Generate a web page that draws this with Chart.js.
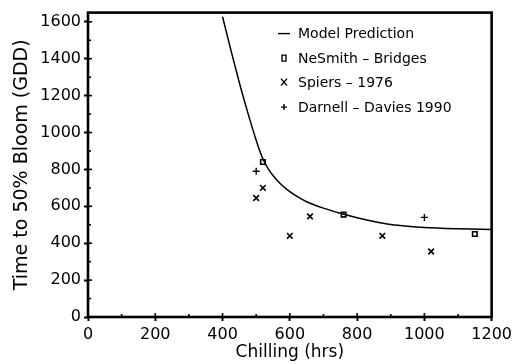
<!DOCTYPE html>
<html>
<head>
<meta charset="utf-8">
<script src="https://cdn.jsdelivr.net/npm/chart.js@4.4.1/dist/chart.umd.min.js"></script>
<style>
  html, body { margin: 0; padding: 0; background: #fff; }
  #wrap { width: 516px; height: 364px; }
</style>
</head>
<body>
<div id="wrap"><canvas id="bloomChart"></canvas></div>
<script>
// Chilling hours vs. heat units to 50% bloom
const modelChill = [400, 425, 450, 475, 500, 510, 520, 535, 550, 575, 600, 625, 650, 700, 750, 800, 850, 900, 950, 1000, 1100, 1200];
const modelGdd   = [1628, 1445, 1270, 1108, 958, 904, 857, 806, 767, 717, 680, 650, 625, 590, 562, 538, 518, 502, 492, 485, 478, 474];

const nesmithChill = [520, 760, 1150];
const nesmithGdd   = [840, 555, 450];

const spiersChill = [500, 520, 600, 660, 875, 1020];
const spiersGdd   = [645, 700, 440, 545, 440, 355];

const darnellChill = [500, 1000];
const darnellGdd   = [790, 540];

const xTicks = [0, 200, 400, 600, 800, 1000, 1200];
const yTicks = [0, 200, 400, 600, 800, 1000, 1200, 1400, 1600];

const legendItems = [
  { label: 'Model Prediction', mark: 'line' },
  { label: 'NeSmith \u2013 Bridges', mark: 'rect' },
  { label: 'Spiers \u2013 1976', mark: 'x' },
  { label: 'Darnell \u2013 Davies 1990', mark: 'plus' },
];

const pts = (xs, ys) => xs.map((x, i) => ({ x, y: ys[i] }));

Chart.defaults.font.family = "'DejaVu Sans', sans-serif";
Chart.defaults.color = '#000';

// box round the plot plus the small inner tick marks
const framePlugin = {
  id: 'frame',
  afterDraw(chart) {
    const { ctx, chartArea: a, scales } = chart;
    ctx.save();
    ctx.strokeStyle = '#000';
    ctx.lineWidth = 1.6;
    for (let v = 100; v < 1200; v += 100) {
      const px = scales.x.getPixelForValue(v);
      const len = v % 200 === 0 ? 4 : 3;
      ctx.beginPath();
      ctx.moveTo(px, a.bottom);
      ctx.lineTo(px, a.bottom - len);
      ctx.stroke();
    }
    for (let v = 100; v <= 1600; v += 100) {
      const py = scales.y.getPixelForValue(v);
      const len = v % 200 === 0 ? 4 : 3;
      ctx.beginPath();
      ctx.moveTo(a.left, py);
      ctx.lineTo(a.left + len, py);
      ctx.stroke();
    }
    ctx.lineWidth = 2.6;
    ctx.strokeRect(a.left, a.top, a.right - a.left, a.bottom - a.top);
    ctx.restore();
  }
};

const keyPlugin = {
  id: 'key',
  afterDraw(chart) {
    const { ctx, chartArea: a } = chart;
    const sx = a.left + 194;
    const tx = sx + 16;
    let y = a.top + 21;
    ctx.save();
    ctx.fillStyle = '#000';
    ctx.strokeStyle = '#000';
    ctx.font = "14px 'DejaVu Sans', sans-serif";
    ctx.textBaseline = 'middle';
    legendItems.forEach(item => {
      ctx.lineWidth = 1.4;
      ctx.beginPath();
      if (item.mark === 'line') {
        ctx.moveTo(sx - 4, y); ctx.lineTo(sx + 8, y);
      } else if (item.mark === 'rect') {
        ctx.rect(sx, y - 3, 4, 6);
      } else if (item.mark === 'x') {
        ctx.moveTo(sx - 1, y - 4); ctx.lineTo(sx + 5, y + 3);
        ctx.moveTo(sx + 5, y - 4); ctx.lineTo(sx - 1, y + 3);
      } else {
        ctx.moveTo(sx - 1, y); ctx.lineTo(sx + 5, y);
        ctx.moveTo(sx + 2, y - 3); ctx.lineTo(sx + 2, y + 3);
      }
      ctx.stroke();
      ctx.fillText(item.label, tx, y + 1);
      y += 24.5;
    });
    ctx.restore();
  }
};

new Chart(document.getElementById('bloomChart'), {
  type: 'scatter',
  data: {
    datasets: [
      {
        label: 'Model Prediction',
        data: pts(modelChill, modelGdd),
        showLine: true,
        borderColor: '#000',
        borderWidth: 1.5,
        pointRadius: 0,
        cubicInterpolationMode: 'monotone',
      },
      {
        label: 'NeSmith - Bridges',
        data: pts(nesmithChill, nesmithGdd),
        pointStyle: 'rect',
        pointRadius: 3.2,
        borderColor: '#000',
        backgroundColor: 'transparent',
        borderWidth: 1.6,
      },
      {
        label: 'Spiers - 1976',
        data: pts(spiersChill, spiersGdd),
        pointStyle: 'crossRot',
        pointRadius: 4,
        borderColor: '#000',
        borderWidth: 1.6,
      },
      {
        label: 'Darnell - Davies 1990',
        data: pts(darnellChill, darnellGdd),
        pointStyle: 'cross',
        pointRadius: 3.5,
        borderColor: '#000',
        borderWidth: 1.4,
      },
    ]
  },
  options: {
    responsive: true,
    maintainAspectRatio: false,
    animation: false,
    layout: { padding: { top: 12, right: 24, left: 0, bottom: 0 } },
    plugins: {
      legend: { display: false },
      tooltip: { enabled: false },
    },
    scales: {
      x: {
        type: 'linear',
        min: 0,
        max: 1200,
        afterBuildTicks: (axis) => { axis.ticks = xTicks.map(value => ({ value })); },
        afterFit: (axis) => { axis.height = 47; },
        grid: { drawOnChartArea: false, drawTicks: true, tickLength: 4, tickWidth: 2, color: '#000' },
        border: { display: false },
        ticks: { font: { size: 16 }, padding: 4, maxRotation: 0, callback: (v) => String(v) },
        title: { display: true, text: 'Chilling (hrs)', font: { size: 17 }, padding: { top: 0, bottom: 1 } },
      },
      y: {
        type: 'linear',
        min: 0,
        max: 1650,
        afterBuildTicks: (axis) => { axis.ticks = yTicks.map(value => ({ value })); },
        afterFit: (axis) => { axis.width = 88; },
        grid: { drawOnChartArea: false, drawTicks: true, tickLength: 4, tickWidth: 2, color: '#000' },
        border: { display: false },
        ticks: { font: { size: 16 }, padding: 3, callback: (v) => String(v) },
        title: { display: true, text: 'Time to 50% Bloom (GDD)', font: { size: 19 }, padding: { top: 11, bottom: 0 } },
      },
    },
  },
  plugins: [framePlugin, keyPlugin],
});
</script>
</body>
</html>
